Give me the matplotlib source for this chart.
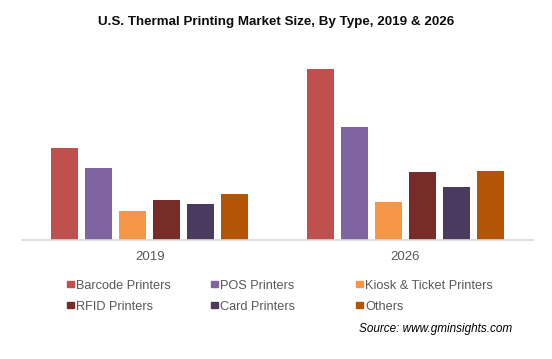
import numpy as np
import matplotlib.pyplot as plt
from matplotlib.patches import Rectangle

plt.rcParams['font.family'] = ['Liberation Sans', 'DejaVu Sans']

# data (relative units)
years = ['2019', '2026']
types = ['Barcode Printers', 'POS Printers', 'Kiosk & Ticket Printers',
         'RFID Printers', 'Card Printers', 'Others']
barcode = [92, 171]
pos = [72, 113]
kiosk = [29, 38]
rfid = [40, 68]
card = [36, 53]
others = [46, 69]
colors = ['#C0504D', '#8064A2', '#F79646', '#772C2A', '#4B3A60', '#B45506']

series = [barcode, pos, kiosk, rfid, card, others]

fig = plt.figure(figsize=(5.52, 3.59), dpi=100)
ax = fig.add_axes([22/552, 1-240/359, 511/552, 180/359])

x = np.arange(len(years))
pitch = 0.133
width = 0.105
for i, (vals, c) in enumerate(zip(series, colors)):
    ax.bar(x + (i - 2.5)*pitch, vals, width=width, color=c, label=types[i])

ax.set_xlim(-0.5, 1.5)
ax.set_ylim(0, 180)
ax.set_yticks([])
ax.set_xticks(x)
ax.set_xticklabels(years, fontsize=9.5, color='#595959')
ax.tick_params(axis='x', length=0, pad=8)
for s in ['top', 'right', 'left']:
    ax.spines[s].set_visible(False)
ax.spines['bottom'].set_color('#D9D9D9')
ax.spines['bottom'].set_linewidth(1.2)

fig.text(0.5, 1-25/359, 'U.S. Thermal Printing Market Size, By Type, 2019 & 2026',
         ha='center', va='baseline', fontsize=9.6, fontweight='bold', color='#0D0D0D')

# legend, 3 columns x 2 rows
col_x = [67, 211, 356]
row_base = [289, 310]
for i, (name, c) in enumerate(zip(types, colors)):
    cx = col_x[i % 3]
    by = row_base[i // 3]
    fig.patches.append(Rectangle((cx/552, 1-(by-2)/359), 6.5/552, 6.5/359,
                                 transform=fig.transFigure, color=c, figure=fig))
    fig.text((cx+9)/552, 1-by/359, name, ha='left', va='baseline',
             fontsize=9.2, color='#595959')

fig.text(512/552, 1-332/359, 'Source: www.gminsights.com', ha='right', va='baseline',
         fontsize=8.5, style='italic', color='#000000')

fig.savefig('out.png', dpi=100)
